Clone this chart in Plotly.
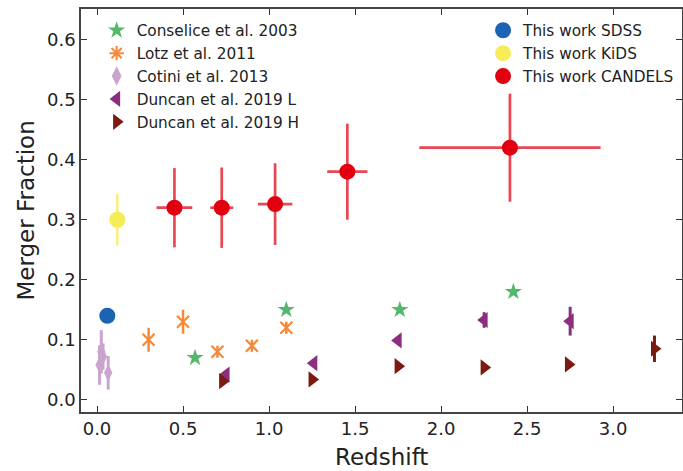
import plotly.graph_objects as go

# ---- data ----
cons_x = [0.57, 1.10, 1.76, 2.42]
cons_y = [0.07, 0.15, 0.15, 0.18]

lotz_x = [0.30, 0.50, 0.70, 0.90, 1.10]
lotz_y = [0.10, 0.13, 0.08, 0.09, 0.12]
lotz_err = [0.02, 0.02, 0.01, 0.01, 0.01]

cot_x = [0.015, 0.025, 0.035, 0.065]
cot_y = [0.058, 0.080, 0.072, 0.045]
cot_err = [0.033, 0.036, 0.022, 0.028]

dunL_x = [0.75, 1.26, 1.75, 2.25, 2.75]
dunL_y = [0.042, 0.061, 0.099, 0.133, 0.131]
dunL_err = [0.004, 0.004, 0.004, 0.013, 0.024]

dunH_x = [0.73, 1.25, 1.75, 2.25, 2.74, 3.24]
dunH_y = [0.031, 0.034, 0.056, 0.054, 0.059, 0.085]
dunH_err = [0.003, 0.003, 0.003, 0.003, 0.006, 0.022]

sdss_x = [0.06]
sdss_y = [0.14]

kids_x = [0.118]
kids_y = [0.30]
kids_err = [0.043]

cand_x = [0.45, 0.725, 1.035, 1.455, 2.40]
cand_y = [0.32, 0.32, 0.326, 0.38, 0.42]
cand_xerr = [0.104, 0.067, 0.10, 0.117, 0.527]
cand_yerr = [0.066, 0.067, 0.068, 0.08, 0.09]

xticks = [0.0, 0.5, 1.0, 1.5, 2.0, 2.5, 3.0]
yticks = [0.0, 0.1, 0.2, 0.3, 0.4, 0.5, 0.6]

# ---- styles ----
C_CONS = "#52b86b"
C_LOTZ = "#f4893a"
C_COT = "#c9a5cd"
C_DUNL = "#8c2d80"
C_DUNH = "#7a1a10"
C_SDSS = "#1b64b4"
C_KIDS = "#f6ec57"
C_CAND = "#e0000f"
TXT = "#222"

fig = go.Figure()


def errs(vals, color, width=2.5):
    return dict(type="data", array=vals, visible=True, color=color, thickness=width, width=0)


# data traces (no legend)
fig.add_trace(go.Scatter(x=cons_x, y=cons_y, mode="markers", showlegend=False,
                         marker=dict(symbol="star", size=13, color=C_CONS)))
fig.add_trace(go.Scatter(x=lotz_x, y=lotz_y, mode="markers", showlegend=False,
                         error_y=errs(lotz_err, C_LOTZ),
                         marker=dict(symbol="x-thin-open", size=12, color=C_LOTZ,
                                     line=dict(color=C_LOTZ, width=2.2))))
fig.add_trace(go.Scatter(x=cot_x, y=cot_y, mode="markers", showlegend=False,
                         error_y=errs(cot_err, C_COT, 3),
                         marker=dict(symbol="diamond-tall", size=12, color=C_COT)))
fig.add_trace(go.Scatter(x=dunL_x, y=dunL_y, mode="markers", showlegend=False,
                         error_y=errs(dunL_err, C_DUNL, 3),
                         marker=dict(symbol="triangle-left", size=14, color=C_DUNL)))
fig.add_trace(go.Scatter(x=dunH_x, y=dunH_y, mode="markers", showlegend=False,
                         error_y=errs(dunH_err, C_DUNH, 3),
                         marker=dict(symbol="triangle-right", size=14, color=C_DUNH)))
fig.add_trace(go.Scatter(x=sdss_x, y=sdss_y, mode="markers", showlegend=False,
                         marker=dict(symbol="circle", size=16, color=C_SDSS)))
fig.add_trace(go.Scatter(x=kids_x, y=kids_y, mode="markers", showlegend=False,
                         error_y=errs(kids_err, "rgba(246,236,87,0.8)", 2.5),
                         marker=dict(symbol="circle", size=16, color=C_KIDS)))
fig.add_trace(go.Scatter(x=cand_x, y=cand_y, mode="markers", showlegend=False,
                         error_y=errs(cand_yerr, "rgba(224,0,15,0.72)", 2.7),
                         error_x=errs(cand_xerr, "rgba(224,0,15,0.72)", 2.7),
                         marker=dict(symbol="circle", size=16, color=C_CAND)))

# legend proxies
left = [("Conselice et al. 2003", "star", 13, C_CONS),
        ("Lotz et al. 2011", "asterisk-open", 12, C_LOTZ),
        ("Cotini et al. 2013", "diamond-tall", 14, C_COT),
        ("Duncan et al. 2019 L", "triangle-left", 14, C_DUNL),
        ("Duncan et al. 2019 H", "triangle-right", 14, C_DUNH)]
for name, sym, sz, col in left:
    fig.add_trace(go.Scatter(x=[None], y=[None], mode="markers", name=name, legend="legend",
                             marker=dict(symbol=sym, size=sz, color=col,
                                         line=dict(color=col, width=2 if "open" in sym else 0))))
right = [("This work SDSS", C_SDSS), ("This work KiDS", C_KIDS), ("This work CANDELS", C_CAND)]
for name, col in right:
    fig.add_trace(go.Scatter(x=[None], y=[None], mode="markers", name=name, legend="legend2",
                             marker=dict(symbol="circle", size=16, color=col)))

axis_common = dict(
    showgrid=False, zeroline=False, showline=True, linecolor="#444", linewidth=1.5,
    mirror="ticks", ticks="inside", ticklen=6, tickwidth=1.2, tickcolor="#333",
    tickfont=dict(family="DejaVu Sans", size=18, color=TXT),
    tickformat=".1f", automargin=False,
)

fig.update_layout(
    width=683, height=471,
    margin=dict(l=81, r=1, t=9, b=59),
    plot_bgcolor="white", paper_bgcolor="white",
    xaxis=dict(range=[-0.093, 3.40], tickvals=xticks, **axis_common),
    yaxis=dict(range=[-0.0203, 0.651], tickvals=yticks, **axis_common),
    legend=dict(x=0.026, y=0.988, xanchor="left", yanchor="top", bgcolor="rgba(0,0,0,0)",
                font=dict(family="DejaVu Sans", size=15.3, color=TXT), traceorder="normal"),
    legend2=dict(x=0.669, y=0.988, xanchor="left", yanchor="top", bgcolor="rgba(0,0,0,0)",
                 font=dict(family="DejaVu Sans", size=15.3, color=TXT), traceorder="normal"),
    annotations=[
        dict(text="Redshift", xref="paper", yref="paper", x=0.5, y=-0.112,
             xanchor="center", yanchor="middle", showarrow=False,
             font=dict(family="DejaVu Sans", size=23, color=TXT)),
        dict(text="Merger Fraction", xref="paper", yref="paper", x=-0.093, y=0.5,
             xanchor="center", yanchor="middle", showarrow=False, textangle=-90,
             font=dict(family="DejaVu Sans", size=23, color=TXT)),
    ],
)

fig.write_html(
    "out.html",
    config={"displayModeBar": False},
    post_script="document.body.style.margin='0';document.body.style.overflow='hidden';",
)
